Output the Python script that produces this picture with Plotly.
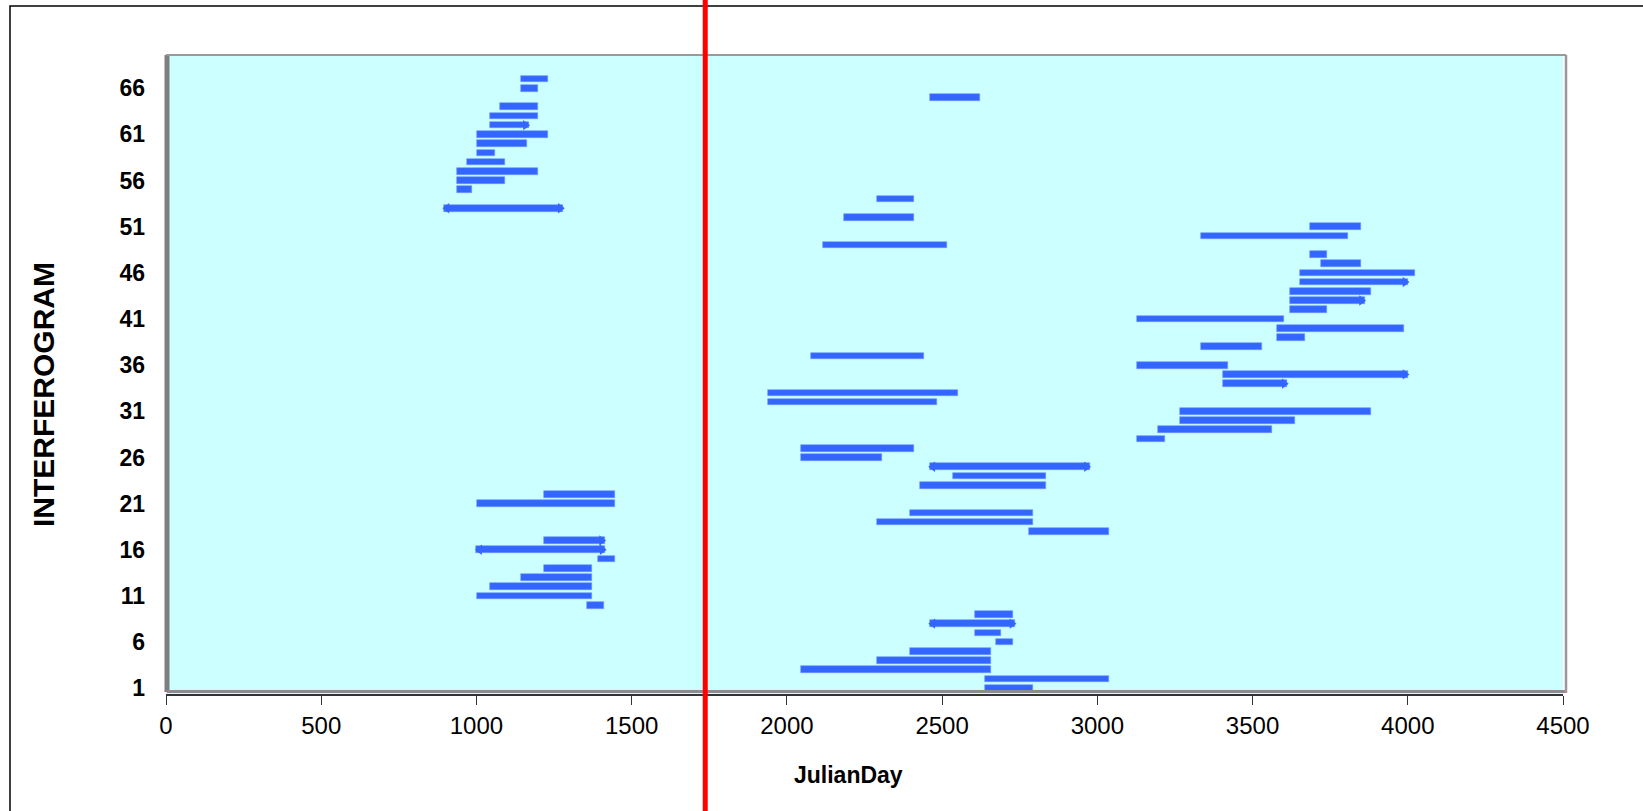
import plotly.graph_objects as go

# ---- data ----
interferogram = list(range(1, 68))
start_day = [2639, 2639, 2046, 2290, 2396, 2674, 2606, 2460, 2606, 1356,
             1002, 1043, 1144, 1216, 1392, 1000, 1216, 2779, 2290, 2396,
             1002, 1216, 2429, 2535, 2460, 2046, 2046, 3128, 3195, 3266,
             3266, 1940, 1940, 3405, 3405, 3128, 2079, 3333, 3580, 3580,
             3128, 3620, 3620, 3620, 3653, 3653, 3720, 3686, 2117, 3333,
             3686, 2184, 895, 2290, 936, 936, 936, 971, 1002, 1002,
             1002, 1043, 1043, 1077, 2462, 1144, 1144]
end_day = [2794, 3038, 2656, 2656, 2656, 2728, 2689, 2735, 2728, 1412,
           1373, 1373, 1373, 1373, 1445, 1415, 1413, 3038, 2794, 2794,
           1445, 1445, 2834, 2834, 2975, 2306, 2410, 3218, 3562, 3636,
           3883, 2485, 2551, 3612, 4001, 3422, 2443, 3529, 3668, 3988,
           3600, 3741, 3861, 3883, 4001, 4023, 3848, 3741, 2516, 3807,
           3848, 2410, 1280, 2410, 987, 1093, 1199, 1093, 1060, 1164,
           1232, 1168, 1199, 1199, 2622, 1199, 1232]
arrow_right_rows = [8, 16, 17, 25, 34, 35, 43, 45, 53, 62]
arrow_left_rows = [8, 16, 25, 53]
x_ticks = [0, 500, 1000, 1500, 2000, 2500, 3000, 3500, 4000, 4500]
y_ticks = [1, 6, 11, 16, 21, 26, 31, 36, 41, 46, 51, 56, 61, 66]
event_day = 1737

BLUE = "#3366FF"
FONT = "Arial, Liberation Sans, sans-serif"

# pixel geometry
W, H = 1643, 811
L, R, T, B = 166, 80, 55, 117
PW, PH = W - L - R, H - T - B


def px_x(p):
    return (p - L) / PW


def px_y(p):
    return (H - B - p) / PH


fig = go.Figure()
fig.add_trace(go.Bar(
    orientation="h",
    y=interferogram,
    base=start_day,
    x=[e - s for s, e in zip(start_day, end_day)],
    width=0.72,
    marker=dict(color=BLUE, line=dict(color="#6f93ff", width=0.6)),
    hoverinfo="skip",
))

# arrow heads at the bar ends
idx = {r: i for i, r in enumerate(interferogram)}
fig.add_trace(go.Scatter(
    x=[end_day[idx[r]] - 10 for r in arrow_right_rows],
    y=arrow_right_rows,
    mode="markers",
    marker=dict(symbol="triangle-right", size=9, color=BLUE),
    hoverinfo="skip",
))
fig.add_trace(go.Scatter(
    x=[start_day[idx[r]] + 10 for r in arrow_left_rows],
    y=arrow_left_rows,
    mode="markers",
    marker=dict(symbol="triangle-left", size=9, color=BLUE),
    hoverinfo="skip",
))

shapes = [
    # outer chart border (extends past right/bottom of page)
    dict(type="rect", xref="paper", yref="paper",
         x0=px_x(10), x1=px_x(W + 20), y0=px_y(H + 20), y1=px_y(6),
         line=dict(color="black", width=1.5), layer="below"),
    # plot-area 3D frame: left wall, floor, top and right edges
    dict(type="line", xref="paper", yref="paper", x0=px_x(167), x1=px_x(167),
         y0=px_y(692), y1=1, line=dict(color="#7f7f7f", width=5)),
    dict(type="line", xref="paper", yref="paper", x0=px_x(167), x1=px_x(1566),
         y0=px_y(691.5), y1=px_y(691.5), line=dict(color="#8c8c8c", width=3)),
    dict(type="line", xref="paper", yref="paper", x0=0, x1=px_x(1566),
         y0=1, y1=1, line=dict(color="#999999", width=2)),
    dict(type="line", xref="paper", yref="paper", x0=px_x(1566), x1=px_x(1566),
         y0=px_y(693), y1=1, line=dict(color="#999999", width=2.5)),
    # red vertical marker line
    dict(type="line", xref="x", yref="paper", x0=event_day, x1=event_day,
         y0=px_y(H + 10), y1=px_y(-10), line=dict(color="#FF0000", width=5),
         layer="above"),
]

fig.update_layout(
    width=W, height=H, autosize=False,
    margin=dict(l=L, r=R, t=T, b=B, pad=0),
    paper_bgcolor="white", plot_bgcolor="#CCFFFF",
    showlegend=False, bargap=0,
    shapes=shapes,
    font=dict(family=FONT, color="black"),
    annotations=[
        dict(text="<b>INTERFEROGRAM</b>", xref="paper", yref="paper",
             x=px_x(43), y=px_y(395), textangle=-90, showarrow=False,
             font=dict(family=FONT, size=30, color="black"),
             xanchor="center", yanchor="middle"),
        dict(text="<b>JulianDay</b>", xref="paper", yref="paper",
             x=px_x(848), y=px_y(775), showarrow=False,
             font=dict(family=FONT, size=23, color="black"),
             xanchor="center", yanchor="middle"),
    ],
)
fig.update_xaxes(
    range=[0, 4500], tickvals=x_ticks, ticktext=[str(v) for v in x_ticks],
    showgrid=False, zeroline=False, showline=True, linecolor="#333333",
    linewidth=1.5, ticks="outside", ticklen=9, tickwidth=1, tickcolor="#333333",
    tickfont=dict(family=FONT, size=24, color="black"),
)
fig.update_yaxes(
    range=[0.38, 69.6], tickvals=y_ticks, ticktext=[str(v) for v in y_ticks],
    showgrid=False, zeroline=False, showline=False, ticks="",
    ticklabelstandoff=20,
    tickfont=dict(family=FONT, size=23, color="black", weight="bold"),
)

fig.write_html("out.html")
